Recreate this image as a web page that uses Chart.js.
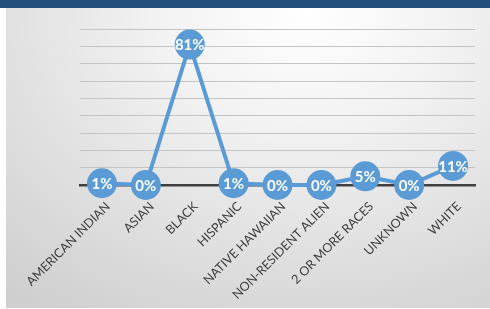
<!DOCTYPE html>
<html>
<head>
<meta charset="utf-8">
<script src="https://cdn.jsdelivr.net/npm/chart.js@4"></script>
<style>
    html, body {
        margin: 0;
        padding: 0;
        width: 490px;
        height: 309px;
        overflow: hidden;
        background: #ffffff;
    }
    .top-bar {
        position: absolute;
        left: 0;
        top: 0;
        width: 490px;
        height: 8px;
        background: #224e7c;
    }
    .panel {
        position: absolute;
        left: 6px;
        top: 8px;
        width: 484px;
        height: 300px;
        background: radial-gradient(ellipse 95% 120% at 62% 2%, #ffffff 0%, #f3f3f3 30%, #e2e2e2 62%, #cfcfcf 100%);
    }
    #chart-wrap {
        position: absolute;
        left: 0;
        top: 0;
        width: 490px;
        height: 309px;
    }
</style>
</head>
<body>
<div class="top-bar"></div>
<div class="panel"></div>
<div id="chart-wrap"><canvas id="ethnicityChart"></canvas></div>
<script>
const categories = ['AMERICAN INDIAN', 'ASIAN', 'BLACK', 'HISPANIC', 'NATIVE HAWAIIAN', 'NON-RESIDENT ALIEN', '2 OR MORE RACES', 'UNKNOWN', 'WHITE'];
const shareValues = [0.01, 0, 0.81, 0.01, 0, 0, 0.05, 0, 0.11];

const lineBlue = '#5b9bd5';
const labelFont = 'Lato, "Liberation Sans", sans-serif';

// draws the percentage text on top of each marker
const pointLabelsPlugin = {
    id: 'pointLabels',
    afterDatasetsDraw(chart) {
        const ctx = chart.ctx;
        const meta = chart.getDatasetMeta(0);
        ctx.save();
        ctx.fillStyle = '#ffffff';
        ctx.font = `bold 15px ${labelFont}`;
        ctx.textAlign = 'center';
        ctx.textBaseline = 'middle';
        meta.data.forEach((point, index) => {
            const text = `${Math.round(shareValues[index] * 100)}%`;
            ctx.fillText(text, point.x, point.y + 1);
        });
        ctx.restore();
    }
};

new Chart(document.getElementById('ethnicityChart'), {
    type: 'line',
    data: {
        labels: categories,
        datasets: [
            {
                data: shareValues,
                borderColor: lineBlue,
                backgroundColor: lineBlue,
                borderWidth: 4,
                pointRadius: 15,
                pointHoverRadius: 15,
                pointBorderWidth: 0,
                pointBackgroundColor: lineBlue,
                tension: 0,
                clip: false
            }
        ]
    },
    options: {
        responsive: true,
        maintainAspectRatio: false,
        animation: false,
        layout: {
            padding: { left: 80, right: 1, top: 29, bottom: 0 }
        },
        plugins: {
            legend: { display: false },
            tooltip: { enabled: false }
        },
        scales: {
            x: {
                offset: true,
                grid: { display: false, drawTicks: false, offset: true },
                border: { display: true, color: '#404040', width: 2.5 },
                ticks: {
                    color: '#404040',
                    font: { family: labelFont, size: 12.5 },
                    minRotation: 45,
                    maxRotation: 45,
                    autoSkip: false,
                    padding: 14,
                    labelOffset: 6
                },
                afterFit: (scale) => {
                    scale.height = 124;
                    scale.paddingLeft = 0;
                    scale.paddingRight = 0;
                }
            },
            y: {
                min: 0,
                max: 0.9,
                ticks: { display: false, stepSize: 0.1 },
                grid: { color: '#c4c4c4', lineWidth: 1, drawTicks: false },
                border: { display: false },
                afterFit: (scale) => {
                    scale.width = 0;
                }
            }
        }
    },
    plugins: [pointLabelsPlugin]
});
</script>
</body>
</html>
